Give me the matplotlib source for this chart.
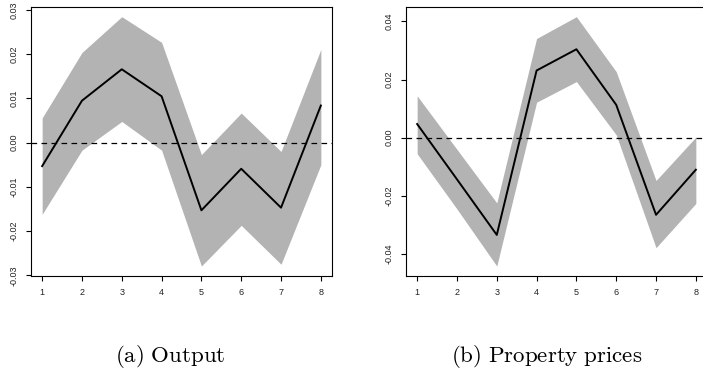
import matplotlib
matplotlib.use("Agg")
import matplotlib.pyplot as plt
import numpy as np

plt.rcParams['mathtext.fontset'] = 'cm'

horizon = [1, 2, 3, 4, 5, 6, 7, 8]

# (a) Output
out_mid = [-0.0053, 0.0095, 0.0166, 0.0105, -0.0153, -0.0059, -0.0147, 0.0084]
out_upper = [0.0056, 0.0204, 0.0285, 0.0227, -0.0027, 0.0067, -0.0020, 0.0211]
out_lower = [-0.0162, -0.0017, 0.0048, -0.0017, -0.0279, -0.0187, -0.0275, -0.0050]
out_yticks = [-0.03, -0.02, -0.01, 0.00, 0.01, 0.02, 0.03]

# (b) Property prices
pp_mid = [0.0047, -0.0143, -0.0334, 0.0231, 0.0304, 0.0113, -0.0265, -0.0110]
pp_upper = [0.0144, -0.0040, -0.0224, 0.0341, 0.0416, 0.0227, -0.0147, 0.0002]
pp_lower = [-0.0055, -0.0245, -0.0441, 0.0122, 0.0193, 0.0010, -0.0378, -0.0226]
pp_yticks = [-0.04, -0.02, 0.00, 0.02, 0.04]

captions = [r'$\mathrm{(a)\ Output}$', r'$\mathrm{(b)\ Property\ prices}$']

W, H = 703, 371
fig = plt.figure(figsize=(W / 100, H / 100), dpi=100)

def px_axes(x0, x1, ytop, ybot):
    return fig.add_axes([x0 / W, (H - ybot) / H, (x1 - x0) / W, (ybot - ytop) / H])

ax1 = px_axes(31, 332, 6.7, 276)
ax2 = px_axes(406, 707, 6.7, 276)

def draw(ax, mid, upper, lower, yticks):
    ax.fill_between(horizon, lower, upper, color='#b3b3b3', linewidth=0)
    ax.plot(horizon, mid, color='black', lw=1.4)
    ax.axhline(0, color='black', lw=0.9, dashes=(4.5, 3.5))
    lo, hi = min(lower), max(upper)
    r = hi - lo
    ax.set_ylim(lo - 0.04 * r, hi + 0.04 * r)
    ax.set_xlim(1 - 0.04 * 7, 8 + 0.04 * 7)
    ax.set_xticks(horizon)
    ax.set_xticklabels([str(h) for h in horizon])
    ax.set_yticks(yticks)
    ax.set_yticklabels([f"{t:.2f}".replace('-0.00', '0.00') for t in yticks])
    for s in ax.spines.values():
        s.set_linewidth(0.8)
        s.set_color('black')
    ax.tick_params(axis='both', length=3.8, width=0.8, labelsize=6.5, colors='black')
    ax.tick_params(axis='x', pad=5.0)
    ax.tick_params(axis='y', pad=5.0, labelrotation=90)
    for lab in ax.get_xticklabels() + ax.get_yticklabels():
        lab.set_fontfamily('Liberation Sans')
        lab.set_color('#222222')
    for lab in ax.get_yticklabels():
        lab.set_va('center')

draw(ax1, out_mid, out_upper, out_lower, out_yticks)
draw(ax2, pp_mid, pp_upper, pp_lower, pp_yticks)

fig.text(170 / W, (H - 357) / H, captions[0], ha='center', va='center', fontsize=16.5)
fig.text(547 / W, (H - 357) / H, captions[1], ha='center', va='center', fontsize=16.5)

fig.savefig('out.png', dpi=100)
